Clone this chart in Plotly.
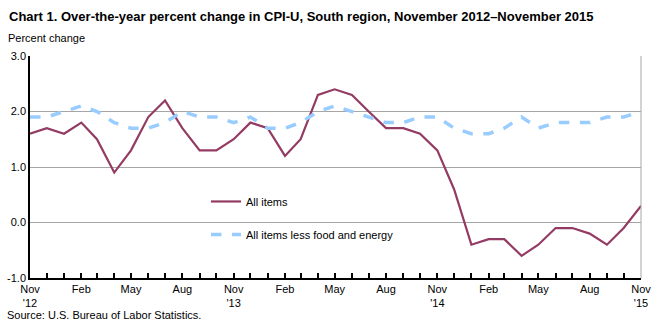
import plotly.graph_objects as go

months = ["2012-11-01","2012-12-01","2013-01-01","2013-02-01","2013-03-01","2013-04-01","2013-05-01",
          "2013-06-01","2013-07-01","2013-08-01","2013-09-01","2013-10-01","2013-11-01","2013-12-01",
          "2014-01-01","2014-02-01","2014-03-01","2014-04-01","2014-05-01","2014-06-01","2014-07-01",
          "2014-08-01","2014-09-01","2014-10-01","2014-11-01","2014-12-01","2015-01-01","2015-02-01",
          "2015-03-01","2015-04-01","2015-05-01","2015-06-01","2015-07-01","2015-08-01","2015-09-01",
          "2015-10-01","2015-11-01"]

all_items = [1.6, 1.7, 1.6, 1.8, 1.5, 0.9, 1.3, 1.9, 2.2, 1.7, 1.3, 1.3, 1.5, 1.8, 1.7, 1.2, 1.5, 2.3,
             2.4, 2.3, 2.0, 1.7, 1.7, 1.6, 1.3, 0.6, -0.4, -0.3, -0.3, -0.6, -0.4, -0.1, -0.1, -0.2,
             -0.4, -0.1, 0.3]

core = [1.9, 1.9, 2.0, 2.1, 2.0, 1.8, 1.7, 1.7, 1.8, 2.0, 1.9, 1.9, 1.8, 1.9, 1.7, 1.7, 1.8, 2.0,
        2.1, 2.0, 1.9, 1.8, 1.8, 1.9, 1.9, 1.7, 1.6, 1.6, 1.7, 1.9, 1.7, 1.8, 1.8, 1.8, 1.9, 1.9, 2.0]

tick_labels = ["Nov<br>'12", "", "", "Feb", "", "", "May", "", "", "Aug", "", "",
               "Nov<br>'13", "", "", "Feb", "", "", "May", "", "", "Aug", "", "",
               "Nov<br>'14", "", "", "Feb", "", "", "May", "", "", "Aug", "", "",
               "Nov<br>'15"]

y_ticks = [-1.0, 0.0, 1.0, 2.0, 3.0]
y_tick_labels = ["-1.0", "0.0", "1.0", "2.0", "3.0"]

FONT = "Liberation Sans, Arial, sans-serif"

fig = go.Figure()
fig.add_trace(go.Scatter(x=months, y=all_items, mode="lines", name="All items",
                         legendgroup="a",
                         line=dict(color="#933B63", width=2.2)))
fig.add_trace(go.Scatter(x=months, y=core, mode="lines", name="All items less food and energy",
                         legendgroup="b",
                         line=dict(color="#99CCFF", width=3.5, dash="dash")))

fig.update_layout(
    width=659, height=326,
    margin=dict(l=30, r=18, t=56, b=48),
    paper_bgcolor="white", plot_bgcolor="white",
    font=dict(family=FONT, size=11, color="black"),
    showlegend=True,
    legend=dict(x=0.288, y=0.41, xanchor="left", yanchor="top",
                bgcolor="rgba(0,0,0,0)", font=dict(size=11),
                traceorder="grouped", tracegroupgap=14),
    xaxis=dict(type="date", tickvals=months, ticktext=tick_labels,
               range=[months[0], months[-1]], automargin=False,
               showgrid=False, showline=True, linecolor="black", linewidth=1.5,
               ticks="inside", ticklen=5, tickcolor="black", tickwidth=1.5,
               mirror=False, zeroline=False, tickangle=0,
               tickfont=dict(size=11)),
    yaxis=dict(range=[-1.0, 3.0], tickvals=y_ticks, ticktext=y_tick_labels,
               automargin=False,
               showgrid=True, gridcolor="#A6A6A6", gridwidth=1,
               showline=True, linecolor="black", linewidth=1.5,
               ticks="", zeroline=False, tickfont=dict(size=11)),
    annotations=[
        dict(text="<b>Chart 1. Over-the-year percent change in CPI-U, South region, November 2012\u2013November 2015</b>",
             xref="paper", yref="paper", x=-0.037, y=1.0, xanchor="left", yanchor="bottom",
             yshift=30, showarrow=False, font=dict(size=13)),
        dict(text="Percent change", xref="paper", yref="paper", x=-0.039, y=1.0,
             xanchor="left", yanchor="bottom", yshift=10, showarrow=False, font=dict(size=11)),
        dict(text="Source: U.S. Bureau of Labor Statistics.", xref="paper", yref="paper",
             x=-0.041, y=0, xanchor="left", yanchor="top", yshift=-29, showarrow=False,
             font=dict(size=11)),
    ],
    shapes=[
        dict(type="line", xref="paper", yref="paper", x0=1, x1=1, y0=0, y1=1,
             line=dict(color="#A6A6A6", width=1)),
    ],
)

fig.write_html("out.html")
